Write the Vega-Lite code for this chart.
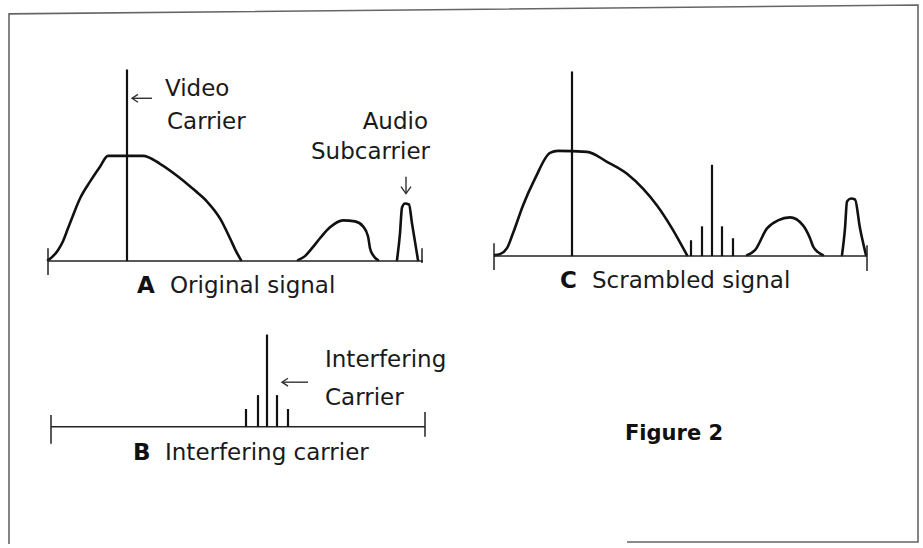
{
  "$schema": "https://vega.github.io/schema/vega-lite/v6.json",
  "width": 923,
  "height": 548,
  "autosize": {"type": "fit", "contains": "padding"},
  "padding": 0,
  "background": "white",
  "config": {"view": {"stroke": null}},
  "datasets": {
    "curves": [
      {"seg": "border", "i": 1, "x": 9, "y": 548},
      {"seg": "border", "i": 2, "x": 9, "y": 14},
      {"seg": "border", "i": 3, "x": 918, "y": 5},
      {"seg": "border", "i": 4, "x": 918, "y": 546},
      {"seg": "border", "i": 5, "x": 627, "y": 546},
      {"seg": "A1", "i": 1, "x": 48, "y": 262},
      {"seg": "A1", "i": 2, "x": 52, "y": 259},
      {"seg": "A1", "i": 3, "x": 58, "y": 252},
      {"seg": "A1", "i": 4, "x": 63, "y": 243},
      {"seg": "A1", "i": 5, "x": 68, "y": 230},
      {"seg": "A1", "i": 6, "x": 73, "y": 217},
      {"seg": "A1", "i": 7, "x": 80, "y": 200},
      {"seg": "A1", "i": 8, "x": 90, "y": 183},
      {"seg": "A1", "i": 9, "x": 100, "y": 168},
      {"seg": "A1", "i": 10, "x": 108, "y": 157},
      {"seg": "A1", "i": 11, "x": 143, "y": 157},
      {"seg": "A1", "i": 12, "x": 160, "y": 165},
      {"seg": "A1", "i": 13, "x": 177, "y": 177},
      {"seg": "A1", "i": 14, "x": 195, "y": 192},
      {"seg": "A1", "i": 15, "x": 207, "y": 203},
      {"seg": "A1", "i": 16, "x": 220, "y": 220},
      {"seg": "A1", "i": 17, "x": 230, "y": 240},
      {"seg": "A1", "i": 18, "x": 236, "y": 253},
      {"seg": "A1", "i": 19, "x": 241, "y": 262},
      {"seg": "A2", "i": 1, "x": 298, "y": 262},
      {"seg": "A2", "i": 2, "x": 305, "y": 258},
      {"seg": "A2", "i": 3, "x": 312, "y": 250},
      {"seg": "A2", "i": 4, "x": 320, "y": 240},
      {"seg": "A2", "i": 5, "x": 330, "y": 229},
      {"seg": "A2", "i": 6, "x": 343, "y": 222},
      {"seg": "A2", "i": 7, "x": 355, "y": 223},
      {"seg": "A2", "i": 8, "x": 363, "y": 228},
      {"seg": "A2", "i": 9, "x": 368, "y": 238},
      {"seg": "A2", "i": 10, "x": 370, "y": 250},
      {"seg": "A2", "i": 11, "x": 373, "y": 257},
      {"seg": "A2", "i": 12, "x": 378, "y": 262},
      {"seg": "A3", "i": 1, "x": 397, "y": 262},
      {"seg": "A3", "i": 2, "x": 400, "y": 235},
      {"seg": "A3", "i": 3, "x": 402, "y": 209},
      {"seg": "A3", "i": 4, "x": 405, "y": 205},
      {"seg": "A3", "i": 5, "x": 409, "y": 206},
      {"seg": "A3", "i": 6, "x": 412, "y": 225},
      {"seg": "A3", "i": 7, "x": 418, "y": 262},
      {"seg": "C1", "i": 1, "x": 495, "y": 257},
      {"seg": "C1", "i": 2, "x": 500, "y": 256},
      {"seg": "C1", "i": 3, "x": 507, "y": 250},
      {"seg": "C1", "i": 4, "x": 513, "y": 235},
      {"seg": "C1", "i": 5, "x": 523, "y": 207},
      {"seg": "C1", "i": 6, "x": 535, "y": 180},
      {"seg": "C1", "i": 7, "x": 550, "y": 154},
      {"seg": "C1", "i": 8, "x": 558, "y": 152},
      {"seg": "C1", "i": 9, "x": 587, "y": 153},
      {"seg": "C1", "i": 10, "x": 607, "y": 163},
      {"seg": "C1", "i": 11, "x": 627, "y": 175},
      {"seg": "C1", "i": 12, "x": 643, "y": 190},
      {"seg": "C1", "i": 13, "x": 657, "y": 207},
      {"seg": "C1", "i": 14, "x": 672, "y": 230},
      {"seg": "C1", "i": 15, "x": 687, "y": 257},
      {"seg": "C2", "i": 1, "x": 747, "y": 257},
      {"seg": "C2", "i": 2, "x": 755, "y": 252},
      {"seg": "C2", "i": 3, "x": 767, "y": 230},
      {"seg": "C2", "i": 4, "x": 778, "y": 222},
      {"seg": "C2", "i": 5, "x": 790, "y": 219},
      {"seg": "C2", "i": 6, "x": 803, "y": 227},
      {"seg": "C2", "i": 7, "x": 810, "y": 240},
      {"seg": "C2", "i": 8, "x": 813, "y": 248},
      {"seg": "C2", "i": 9, "x": 818, "y": 254},
      {"seg": "C2", "i": 10, "x": 823, "y": 257},
      {"seg": "C3", "i": 1, "x": 842, "y": 257},
      {"seg": "C3", "i": 2, "x": 845, "y": 230},
      {"seg": "C3", "i": 3, "x": 847, "y": 203},
      {"seg": "C3", "i": 4, "x": 851, "y": 200},
      {"seg": "C3", "i": 5, "x": 855, "y": 201},
      {"seg": "C3", "i": 6, "x": 860, "y": 230},
      {"seg": "C3", "i": 7, "x": 866, "y": 257}
    ],
    "arrowLines": [
      {"seg": "v1", "i": 1, "x": 132, "y": 99},
      {"seg": "v1", "i": 2, "x": 152, "y": 99},
      {"seg": "v2", "i": 1, "x": 138, "y": 95},
      {"seg": "v2", "i": 2, "x": 132, "y": 99},
      {"seg": "v2", "i": 3, "x": 138, "y": 103},
      {"seg": "i1", "i": 1, "x": 282, "y": 385},
      {"seg": "i1", "i": 2, "x": 308, "y": 385},
      {"seg": "i2", "i": 1, "x": 288, "y": 381},
      {"seg": "i2", "i": 2, "x": 282, "y": 385},
      {"seg": "i2", "i": 3, "x": 288, "y": 389},
      {"seg": "a1", "i": 1, "x": 406, "y": 178},
      {"seg": "a1", "i": 2, "x": 406, "y": 195},
      {"seg": "a2", "i": 1, "x": 401, "y": 188},
      {"seg": "a2", "i": 2, "x": 406, "y": 195},
      {"seg": "a2", "i": 3, "x": 411, "y": 188}
    ],
    "hrules": [
      {"x": 48, "x2": 423, "y": 263},
      {"x": 494, "x2": 867, "y": 258},
      {"x": 51, "x2": 425, "y": 430}
    ],
    "ticks": [
      {"x": 48, "y": 250, "y2": 277},
      {"x": 422, "y": 250, "y2": 265},
      {"x": 494, "y": 245, "y2": 272},
      {"x": 867, "y": 247, "y2": 273},
      {"x": 51, "y": 418, "y2": 447},
      {"x": 425, "y": 415, "y2": 440}
    ],
    "spikes": [
      {"x": 127, "y": 70, "y2": 263},
      {"x": 572, "y": 72, "y2": 258},
      {"x": 691, "y": 242, "y2": 258},
      {"x": 702, "y": 228, "y2": 258},
      {"x": 712, "y": 166, "y2": 258},
      {"x": 722, "y": 228, "y2": 258},
      {"x": 733, "y": 240, "y2": 258},
      {"x": 246, "y": 412, "y2": 430},
      {"x": 258, "y": 398, "y2": 430},
      {"x": 267, "y": 337, "y2": 430},
      {"x": 277, "y": 398, "y2": 430},
      {"x": 288, "y": 412, "y2": 430}
    ],
    "textsLeft": [
      {"x": 165, "y": 97, "t": "Video"},
      {"x": 167, "y": 130, "t": "Carrier"},
      {"x": 170, "y": 295, "t": "Original signal"},
      {"x": 165, "y": 463, "t": "Interfering carrier"},
      {"x": 592, "y": 290, "t": "Scrambled signal"},
      {"x": 325, "y": 370, "t": "Interfering"},
      {"x": 325, "y": 408, "t": "Carrier"}
    ],
    "textsRight": [
      {"x": 428, "y": 130, "t": "Audio"},
      {"x": 430, "y": 160, "t": "Subcarrier"}
    ],
    "textsBold": [
      {"x": 137, "y": 295, "t": "A", "s": 23},
      {"x": 133, "y": 463, "t": "B", "s": 23},
      {"x": 560, "y": 290, "t": "C", "s": 23},
      {"x": 625, "y": 443, "t": "Figure 2", "s": 21}
    ]
  },
  "layer": [
    {
      "data": {"name": "curves"},
      "transform": [{"filter": "datum.seg === 'border'"}],
      "mark": {"type": "line", "stroke": "#666666", "strokeWidth": 1.6},
      "encoding": {
        "x": {"field": "x", "type": "quantitative", "scale": {"domain": [0, 923], "nice": false, "zero": false}, "axis": null},
        "y": {"field": "y", "type": "quantitative", "scale": {"domain": [0, 548], "nice": false, "zero": false, "reverse": true}, "axis": null},
        "order": {"field": "i"}
      }
    },
    {
      "data": {"name": "curves"},
      "transform": [{"filter": "datum.seg !== 'border'"}],
      "mark": {"type": "line", "stroke": "#111111", "strokeWidth": 2.6, "interpolate": "monotone", "strokeJoin": "round", "strokeCap": "round"},
      "encoding": {
        "x": {"field": "x", "type": "quantitative"},
        "y": {"field": "y", "type": "quantitative"},
        "detail": {"field": "seg"},
        "order": {"field": "i"}
      }
    },
    {
      "data": {"name": "arrowLines"},
      "mark": {"type": "line", "stroke": "#333333", "strokeWidth": 1.4, "interpolate": "linear"},
      "encoding": {
        "x": {"field": "x", "type": "quantitative"},
        "y": {"field": "y", "type": "quantitative"},
        "detail": {"field": "seg"},
        "order": {"field": "i"}
      }
    },
    {
      "data": {"name": "hrules"},
      "mark": {"type": "rule", "stroke": "#222222", "strokeWidth": 1.5},
      "encoding": {
        "x": {"field": "x", "type": "quantitative"},
        "x2": {"field": "x2"},
        "y": {"field": "y", "type": "quantitative"}
      }
    },
    {
      "data": {"name": "ticks"},
      "mark": {"type": "rule", "stroke": "#222222", "strokeWidth": 1.5},
      "encoding": {
        "x": {"field": "x", "type": "quantitative"},
        "y": {"field": "y", "type": "quantitative"},
        "y2": {"field": "y2"}
      }
    },
    {
      "data": {"name": "spikes"},
      "mark": {"type": "rule", "stroke": "#111111", "strokeWidth": 2.2},
      "encoding": {
        "x": {"field": "x", "type": "quantitative"},
        "y": {"field": "y", "type": "quantitative"},
        "y2": {"field": "y2"}
      }
    },
    {
      "data": {"name": "textsLeft"},
      "mark": {"type": "text", "align": "left", "baseline": "alphabetic", "font": "DejaVu Sans", "fontSize": 23, "color": "#1a1a1a"},
      "encoding": {
        "x": {"field": "x", "type": "quantitative"},
        "y": {"field": "y", "type": "quantitative"},
        "text": {"field": "t"}
      }
    },
    {
      "data": {"name": "textsRight"},
      "mark": {"type": "text", "align": "right", "baseline": "alphabetic", "font": "DejaVu Sans", "fontSize": 23, "color": "#1a1a1a"},
      "encoding": {
        "x": {"field": "x", "type": "quantitative"},
        "y": {"field": "y", "type": "quantitative"},
        "text": {"field": "t"}
      }
    },
    {
      "data": {"name": "textsBold"},
      "mark": {"type": "text", "align": "left", "baseline": "alphabetic", "font": "DejaVu Sans", "fontWeight": "bold", "color": "#111111"},
      "encoding": {
        "x": {"field": "x", "type": "quantitative"},
        "y": {"field": "y", "type": "quantitative"},
        "text": {"field": "t"},
        "size": {"field": "s", "type": "quantitative", "scale": null}
      }
    }
  ]
}
